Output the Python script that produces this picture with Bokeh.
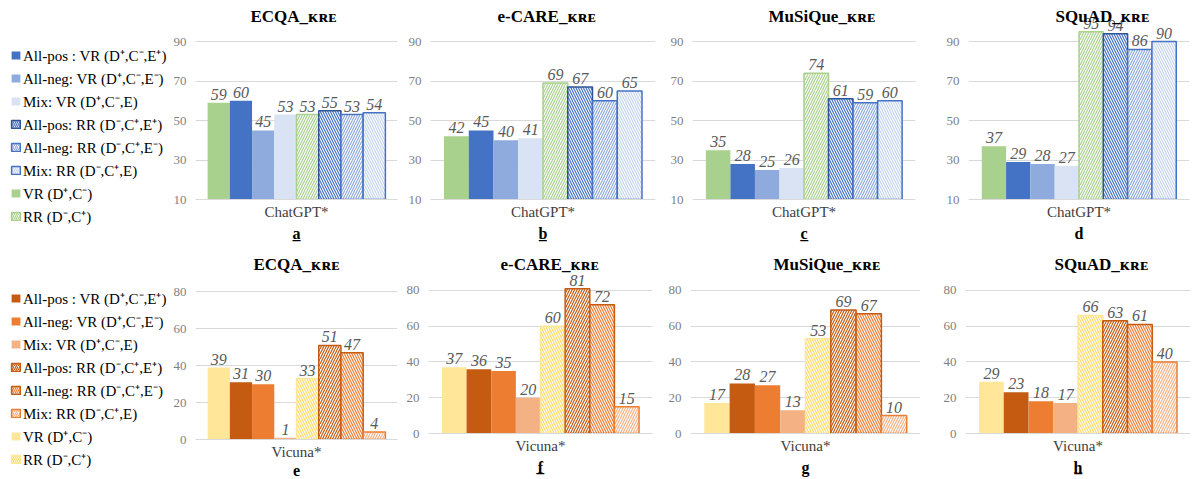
from bokeh.plotting import figure
from bokeh.layouts import row, column
from bokeh.models import (FactorRange, Range1d, ColumnDataSource, LabelSet, Label,
                          Legend, LegendItem, FixedTicker)
from bokeh.transform import dodge
from bokeh.embed import file_html
from bokeh.resources import INLINE

# ---------------- data ----------------
series = ["VR", "All-pos VR", "All-neg VR", "Mix VR",
          "RR", "All-pos RR", "All-neg RR", "Mix RR"]

chatgpt_ecqa = [59, 60, 45, 53, 53, 55, 53, 54]
chatgpt_ecare = [42, 45, 40, 41, 69, 67, 60, 65]
chatgpt_musique = [35, 28, 25, 26, 74, 61, 59, 60]
chatgpt_squad = [37, 29, 28, 27, 95, 94, 86, 90]

vicuna_ecqa = [39, 31, 30, 1, 33, 51, 47, 4]
vicuna_ecare = [37, 36, 35, 20, 60, 81, 72, 15]
vicuna_musique = [17, 28, 27, 13, 53, 69, 67, 10]
vicuna_squad = [29, 23, 18, 17, 66, 63, 61, 40]

titles = ["ECQA_ᴋʀᴇ", "e-CARE_ᴋʀᴇ", "MuSiQue_ᴋʀᴇ", "SQuAD_ᴋʀᴇ"]
letters_top = ["a\u0332", "b\u0332", "c\u0332", "d"]
letters_bottom = ["e", "f\u0332", "g", "h\u0332"]

top_ticks = [10, 30, 50, 70, 90]
bottom_ticks = [0, 20, 40, 60, 80]

legend_labels = ["All-pos : VR (D⁺,C⁻,E⁺)", "All-neg: VR (D⁺,C⁻,E⁻)",
                 "Mix: VR (D⁺,C⁻,E)", "All-pos: RR (D⁻,C⁺,E⁺)",
                 "All-neg: RR (D⁻,C⁺,E⁻)", "Mix: RR (D⁻,C⁺,E)",
                 "VR (D⁺,C⁻)", "RR (D⁻,C⁺)"]
legend_order = [1, 2, 3, 5, 6, 7, 0, 4]

# ---------------- styles ----------------
top_style = dict(
    fill=["#A9D18E", "#4472C4", "#8FAADC", "#DAE3F3", "white", "white", "white", "white"],
    hatch=[" ", " ", " ", " ", "/", "\\", "/", "\\"],
    hatch_color=["#A9D18E", "#4472C4", "#8FAADC", "#DAE3F3", "#A9D18E", "#4472C4", "#8FAADC", "#C5D4EE"],
    line=["#A9D18E", "#4472C4", "#8FAADC", "#DAE3F3", "#A9D18E", "#2F5597", "#4472C4", "#4472C4"],
    line_alpha=[0, 0, 0, 0, 1, 1, 1, 1],
)
bottom_style = dict(
    fill=["#FFE699", "#C55A11", "#ED7D31", "#F4B183", "white", "white", "white", "white"],
    hatch=[" ", " ", " ", " ", "\\", "/", "\\", "/"],
    hatch_color=["#FFE699", "#C55A11", "#ED7D31", "#F4B183", "#FFD966", "#C55A11", "#ED7D31", "#F4B183"],
    line=["#FFE699", "#C55A11", "#ED7D31", "#F4B183", "#FFE699", "#C55A11", "#C55A11", "#ED7D31"],
    line_alpha=[0, 0, 0, 0, 1, 1, 1, 1],
)

SERIF = "Liberation Serif"
BAR_W = 0.11


def make_panel(values, model, title, letter, ticks, yr, style, width, height,
               bl, br, toff, tdy):
    cols = dict(x=[model])
    for i, v in enumerate(values):
        cols[f"v{i}"] = [v]
        cols[f"l{i}"] = [str(v)]
    src = ColumnDataSource(cols)
    p = figure(x_range=FactorRange(model), y_range=Range1d(*yr),
               width=width, height=height, title=None,
               output_backend="svg", toolbar_location=None,
               min_border_left=bl, min_border_right=br, min_border_top=0,
               min_border_bottom=0)
    p.frame_align = False
    for i in range(len(series)):
        off = (i - (len(series) - 1) / 2) * BAR_W
        xs = dodge("x", off, range=p.x_range)
        p.vbar(x=xs, top=f"v{i}", bottom=yr[0], width=BAR_W, source=src,
               fill_color=style["fill"][i], hatch_pattern=style["hatch"][i],
               hatch_color=style["hatch_color"][i], hatch_scale=5, hatch_weight=1.2,
               line_color=style["line"][i], line_alpha=style["line_alpha"][i],
               line_width=1.5)
        p.add_layout(LabelSet(x=dodge("x", off, range=p.x_range), y=f"v{i}",
                              text=f"l{i}", source=src, y_offset=3,
                              text_align="center", text_baseline="bottom",
                              text_font=SERIF, text_font_style="italic",
                              text_font_size="16px", text_color="#595959"))
    p.add_layout(Label(x=toff, x_units="screen", y=yr[1], y_units="data",
                       y_offset=tdy, text=title, text_baseline="top",
                       text_align="left", text_font=SERIF, text_font_size="17px",
                       text_font_style="bold", text_color="#000000"))

    p.outline_line_color = None
    p.xgrid.visible = False
    p.ygrid.grid_line_color = "#D9D9D9"
    p.ygrid.ticker = FixedTicker(ticks=ticks)

    p.yaxis.ticker = FixedTicker(ticks=ticks)
    p.yaxis.axis_line_color = None
    p.yaxis.major_tick_line_color = None
    p.yaxis.minor_tick_line_color = None
    p.yaxis.major_tick_out = 0
    p.yaxis.minor_tick_out = 0
    p.yaxis.major_label_standoff = 9
    p.yaxis.major_label_text_font = SERIF
    p.yaxis.major_label_text_font_size = "13px"
    p.yaxis.major_label_text_color = "#7F7F7F"

    p.xaxis.axis_line_color = "#D9D9D9"
    p.xaxis.major_tick_line_color = None
    p.xaxis.minor_tick_line_color = None
    p.xaxis.major_tick_out = 0
    p.xaxis.minor_tick_out = 0
    p.xaxis.major_label_standoff = 4
    p.xaxis.major_label_text_font = SERIF
    p.xaxis.major_label_text_font_size = "15px"
    p.xaxis.major_label_text_color = "#404040"
    p.xaxis.axis_label = letter
    p.xaxis.axis_label_standoff = 2
    p.xaxis.axis_label_text_font = SERIF
    p.xaxis.axis_label_text_font_size = "16px"
    p.xaxis.axis_label_text_font_style = "bold"
    p.xaxis.axis_label_text_color = "#000000"
    return p


def make_legend(style, width, height, top):
    p = figure(width=width, height=height, x_range=Range1d(0, 1), y_range=Range1d(0, 1),
               output_backend="svg", toolbar_location=None, title=None,
               x_axis_location=None, y_axis_location=None,
               min_border_left=10, min_border_right=0, min_border_top=top,
               min_border_bottom=0)
    p.frame_align = False
    p.grid.visible = False
    p.outline_line_color = None
    items = []
    for lab, i in zip(legend_labels, legend_order):
        # swatch-only renderer: a zero-size bar, nothing is drawn in the frame
        r = p.vbar(x=[0.5], top=[0.5], bottom=0.5, width=0,
                   fill_color=style["fill"][i], hatch_pattern=style["hatch"][i],
                   hatch_color=style["hatch_color"][i], hatch_scale=4, hatch_weight=1.2,
                   line_color=style["line"][i], line_alpha=style["line_alpha"][i],
                   line_width=1.5)
        items.append(LegendItem(label=lab, renderers=[r]))
    leg = Legend(items=items, location="top_left", margin=0, padding=0, spacing=3,
                 glyph_width=11, glyph_height=10, label_height=20, label_standoff=2,
                 label_text_font=SERIF, label_text_font_size="15px",
                 label_text_color="#000000", border_line_color=None,
                 background_fill_alpha=0)
    p.add_layout(leg)
    return p


TOP_H, BOT_H = 244, 234
top_vals = [chatgpt_ecqa, chatgpt_ecare, chatgpt_musique, chatgpt_squad]
bot_vals = [vicuna_ecqa, vicuna_ecare, vicuna_musique, vicuna_squad]

LEG_W = 170
widths = [230, 260, 260, 275]
top_borders = [(25, 3), (30, 5), (32, 5), (48, 6)]
bot_borders = [(25, 3), (28, 8), (30, 0), (45, 5)]
top_offsets = [55, 67, 76, 87]
bot_offsets = [58, 72, 83, 89]

top_row = [make_legend(top_style, LEG_W, TOP_H, 45)]
for v, t, l, w, (bl, br), o in zip(top_vals, titles, letters_top, widths, top_borders, top_offsets):
    top_row.append(make_panel(v, "ChatGPT*", t, l, top_ticks, (10, 110.8), top_style,
                              w, TOP_H, bl, br, o, -6))

bot_row = [make_legend(bottom_style, LEG_W, BOT_H, 44)]
for v, t, l, w, (bl, br), o in zip(bot_vals, titles, letters_bottom, widths, bot_borders, bot_offsets):
    bot_row.append(make_panel(v, "Vicuna*", t, l, bottom_ticks, (0, 105.7), bottom_style,
                              w, BOT_H, bl, br, o, -10))

layout = column(row(*top_row), row(*bot_row))
open("out.html", "w").write(file_html(layout, INLINE))
